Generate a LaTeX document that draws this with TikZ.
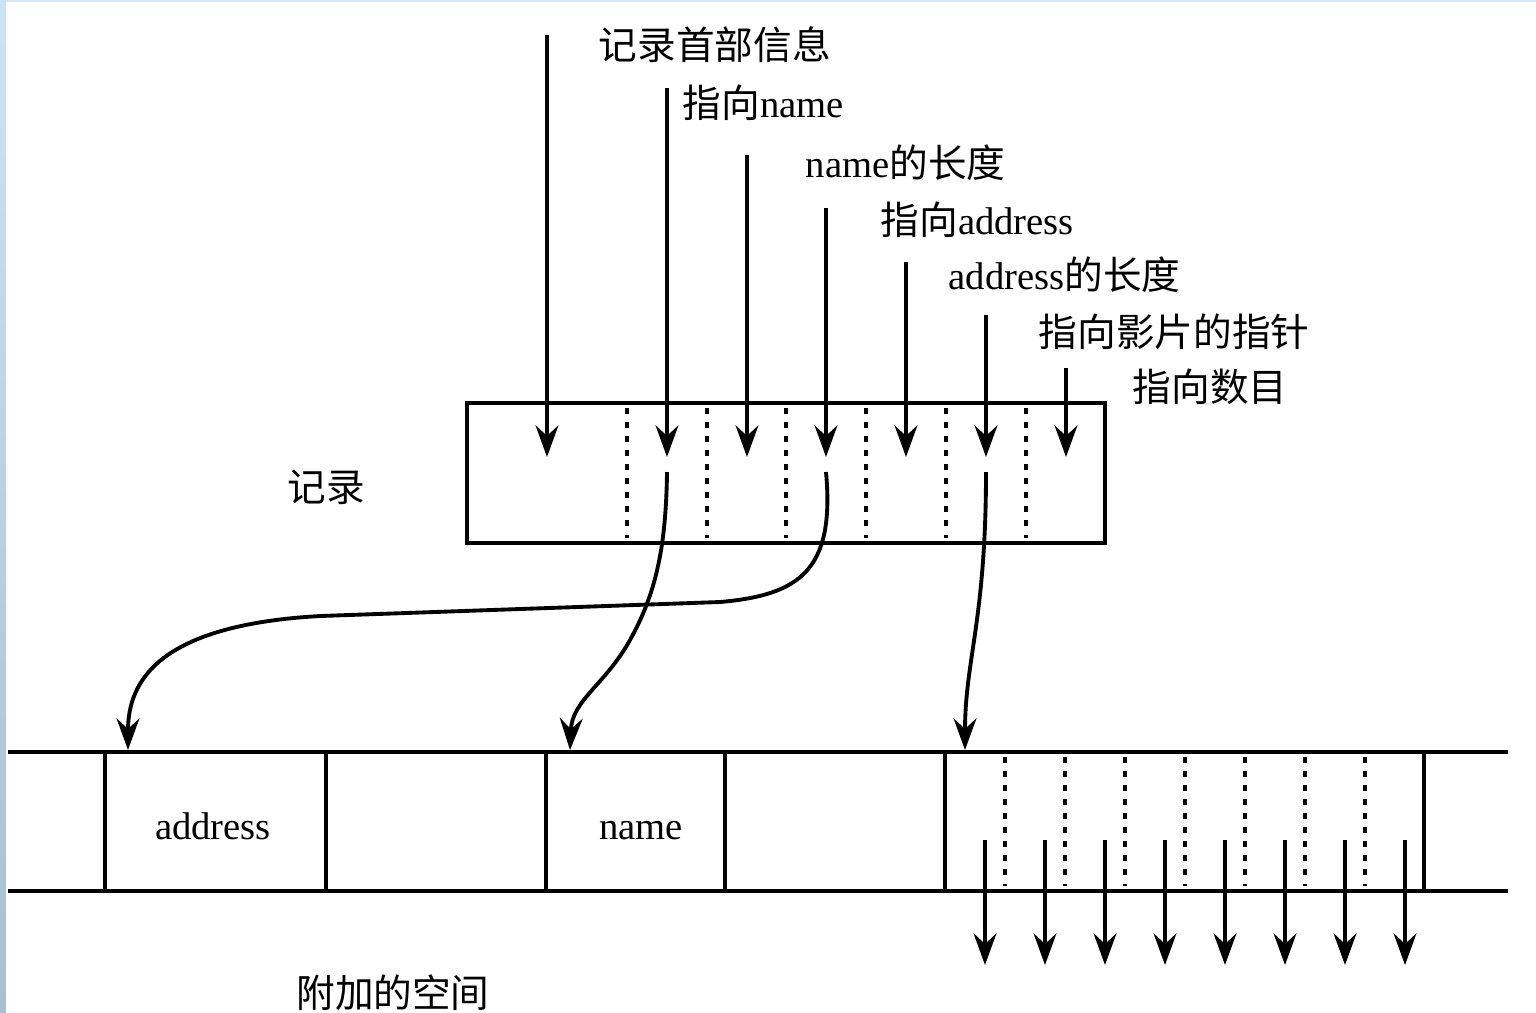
\documentclass[tikz,border=0pt]{standalone}
\usepackage{fontspec}
\setmainfont{Liberation Serif}
\newfontfamily\cjk{Noto Sans CJK SC}
\usepackage{tikz}
\usetikzlibrary{arrows.meta,positioning}
\usepackage{xcolor}
\definecolor{edgebluetop}{RGB}{200,228,246}
\definecolor{edgebluebot}{RGB}{165,192,210}
\definecolor{edgeblueline}{RGB}{208,232,248}

\begin{document}
\begin{tikzpicture}[x=1cm,y=-1cm,
    ptr/.style={line width=1.1pt,-{Stealth[length=9pt,width=6.5pt,inset=3pt]}},
    sepline/.style={line width=1.3pt,dash pattern=on 1.7pt off 2.3pt},
    wall/.style={line width=1.2pt},
    lbl/.style={anchor=west,inner sep=0pt,font=\fontsize{11}{13}\selectfont},
    txt/.style={inner sep=0pt,font=\fontsize{11}{13}\selectfont}]
    \useasboundingbox (0,0) rectangle (15.36,10.12);
    % window edge
    \shade[top color=edgebluetop,bottom color=edgebluebot] (0,0) rectangle (0.06,10.12);
    \fill[edgeblueline] (0.06,0) rectangle (15.36,0.02);
    % record
    \draw[wall] (4.67,4.03) rectangle (11.05,5.43);
    \foreach \x in {6.27,7.07,7.86,8.66,9.46,10.26} {
      \draw[sepline] (\x,4.08) -- (\x,5.38);
    }
    \node[txt,font=\fontsize{11}{13}\cjk] (reclbl) at (3.26,4.87) {记录};
    % field labels
    \node[lbl] (hdr) at (5.98,0.45) {\cjk 记录首部信息};
    \node[lbl] (pname) at (6.82,1.03) {{\cjk 指向}name};
    \node[lbl] (lname) at (8.05,1.63) {name{\cjk 的长度}};
    \node[lbl] (paddr) at (8.80,2.20) {{\cjk 指向}address};
    \node[lbl] (laddr) at (9.48,2.75) {address{\cjk 的长度}};
    \node[lbl] (pfilm) at (10.38,3.32) {\cjk 指向影片的指针};
    \node[lbl] (pcount) at (11.32,3.87) {\cjk 指向数目};
    % pointers into the record
    \foreach \i/\x/\yt in {1/5.47/0.35,2/6.67/0.88,3/7.47/1.55,4/8.26/2.08,
                           5/9.06/2.62,6/9.86/3.15,7/10.66/3.68} {
      \coordinate (top\i) at (\x,\yt);
      \coordinate (hit\i) at (\x,4.57);
      \draw[ptr] (top\i) -- (hit\i);
    }
    % extra space
    \draw[wall] (0.08,7.52) -- (15.08,7.52);
    \draw[wall] (0.08,8.91) -- (15.08,8.91);
    \foreach \x in {1.05,3.26,5.46,7.25,9.45,14.24} {
      \draw[wall] (\x,7.52) -- (\x,8.91);
    }
    \foreach \k in {0,...,6} {
      \draw[sepline] ({10.05+0.6*\k},7.57) -- ({10.05+0.6*\k},8.86);
    }
    \node[txt,anchor=base] (addr) at (2.13,8.39) {address};
    \node[txt,anchor=base] (nm) at (6.41,8.39) {name};
    \node[txt,font=\fontsize{11}{13}\cjk] (extra) at (3.93,9.93) {附加的空间};
    \foreach \k in {0,...,7} {
      \coordinate (out\k) at ({9.85+0.6*\k},8.40);
      \coordinate (end\k) at ({9.85+0.6*\k},9.65);
      \draw[ptr] (out\k) -- (end\k);
    }
    % links from the record down
    \coordinate (fname) at (6.67,4.72);
    \coordinate (faddr) at (8.26,4.72);
    \coordinate (ffilm) at (9.86,4.72);
    \coordinate (toaddr) at (1.28,7.50);
    \coordinate (toname) at (5.70,7.50);
    \coordinate (tofilm) at (9.65,7.50);
    \draw[ptr] (fname) .. controls (6.66,5.5) and (6.55,5.95) .. (6.3,6.4)
      .. controls (6.05,6.85) and (5.72,7.0) .. (toname);
    \draw[ptr] (faddr) .. controls (8.35,5.7) and (8.0,5.95) .. (7.2,6.02)
      -- (3.2,6.16) .. controls (1.6,6.25) and (1.28,6.8) .. (toaddr);
    \draw[ptr] (ffilm) .. controls (9.86,6.2) and (9.65,6.6) .. (tofilm);
  \end{tikzpicture}
\end{document}
